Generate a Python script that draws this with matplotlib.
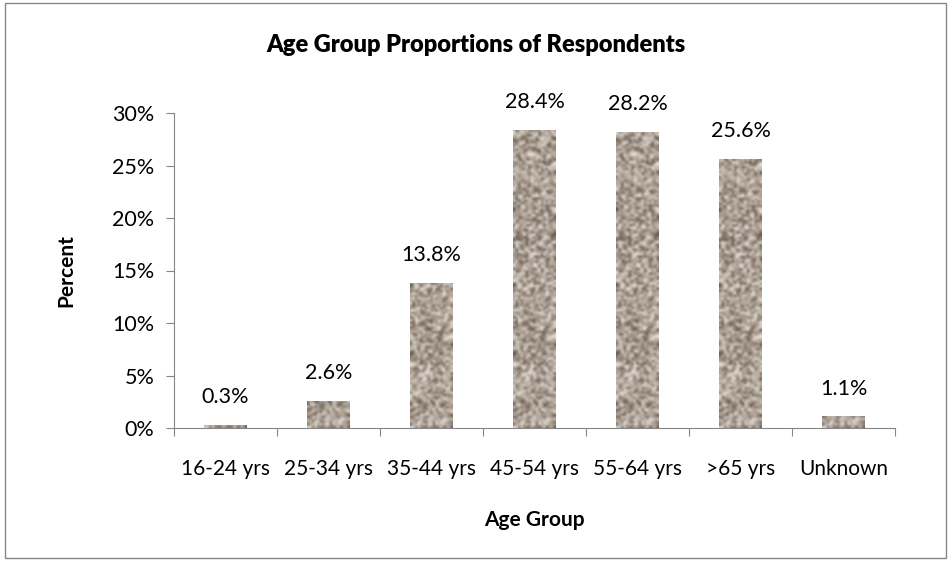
import numpy as np
import matplotlib.pyplot as plt
from matplotlib.patches import Rectangle
from matplotlib.colors import LinearSegmentedColormap

# Data
groups = ['16-24 yrs', '25-34 yrs', '35-44 yrs', '45-54 yrs', '55-64 yrs', '>65 yrs', 'Unknown']
percent = [0.3, 2.6, 13.8, 28.4, 28.2, 25.6, 1.1]
labels = ['0.3%', '2.6%', '13.8%', '28.4%', '28.2%', '25.6%', '1.1%']

plt.rcParams['font.family'] = ['Lato', 'DejaVu Sans']

fig = plt.figure(figsize=(9.51, 5.61), dpi=100)
ax = fig.add_axes([174 / 951, 1 - 428 / 561, (895 - 174) / 951, (428 - 113) / 561])

x = np.arange(len(groups))
bars = ax.bar(x, percent, width=0.41, color='#a89b8e', zorder=2)

# granite-like texture inside the bars
rng = np.random.default_rng(7)
noise = rng.random((130, 17))
cmap = LinearSegmentedColormap.from_list('granite', ['#5a4e44', '#9e9084', '#bcb0a4', '#f2ede6'])
for b in bars:
    im = ax.imshow(noise, cmap=cmap, vmin=0.0, vmax=1.0, aspect='auto',
                   extent=[b.get_x(), b.get_x() + b.get_width(), 0, 30],
                   interpolation='bicubic', zorder=2)
    im.set_clip_path(b)
    b.set_facecolor('none')

for xi, v, lab in zip(x, percent, labels):
    ax.text(xi, v + 1.7, lab, ha='center', va='bottom', fontsize=15.5)

ax.set_xlim(-0.5, len(groups) - 0.5)
ax.set_ylim(0, 30)
ax.set_yticks(np.arange(0, 31, 5))
ax.set_yticklabels([f'{t}%' for t in range(0, 31, 5)], fontsize=15.5)
ax.set_xticks(np.arange(-0.5, len(groups), 1))
ax.set_xticklabels([])
ax.set_xticks(x, minor=True)
ax.set_xticklabels(groups, minor=True, fontsize=15)
ax.tick_params(axis='x', which='minor', length=0, pad=22)
ax.tick_params(axis='x', which='major', length=6, color='#868686', direction='out')
ax.tick_params(axis='y', length=6, color='#868686', pad=8)

for s in ['top', 'right']:
    ax.spines[s].set_visible(False)
for s in ['left', 'bottom']:
    ax.spines[s].set_color('#868686')

ax.set_ylabel('Percent', fontsize=15, fontweight='bold', labelpad=26)
ax.set_xlabel('Age Group', fontsize=15, fontweight='bold', labelpad=23)

fig.text(0.5, 1 - 45 / 561, 'Age Group Proportions of Respondents', ha='center', va='center',
         fontsize=17, fontweight='heavy')

fig.patches.append(Rectangle((5 / 951, 3 / 561), 941 / 951, 555 / 561, transform=fig.transFigure,
                             fill=False, edgecolor='#868686', linewidth=1))

fig.savefig('out.png', dpi=100)
